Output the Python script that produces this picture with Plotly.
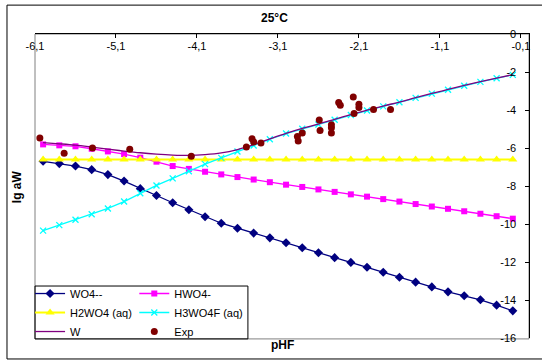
import plotly.graph_objects as go

# pHF grid of the speciation calculation
phf = [-6.0, -5.8, -5.6, -5.4, -5.2, -5.0, -4.8, -4.6, -4.4, -4.2,
       -4.0, -3.8, -3.6, -3.4, -3.2, -3.0, -2.8, -2.6, -2.4, -2.2,
       -2.0, -1.8, -1.6, -1.4, -1.2, -1.0, -0.8, -0.6, -0.4, -0.2]

# lg a of each tungsten species
wo4 = [-6.70, -6.82, -6.95, -7.14, -7.40, -7.74, -8.14, -8.50, -8.88, -9.25,
       -9.62, -9.96, -10.22, -10.48, -10.73, -10.99, -11.25, -11.51, -11.77, -12.02,
       -12.28, -12.54, -12.80, -13.06, -13.31, -13.57, -13.78, -13.99, -14.27, -14.57]
hwo4 = [-5.81, -5.86, -5.91, -6.04, -6.18, -6.32, -6.51, -6.72, -6.95, -7.10,
        -7.25, -7.39, -7.53, -7.66, -7.80, -7.93, -8.05, -8.18, -8.31, -8.44,
        -8.56, -8.69, -8.82, -8.95, -9.08, -9.20, -9.33, -9.46, -9.59, -9.72]
h2wo4 = [-6.60, -6.60, -6.60, -6.60, -6.60, -6.60, -6.60, -6.60, -6.60, -6.60,
         -6.60, -6.60, -6.60, -6.60, -6.60, -6.60, -6.60, -6.60, -6.60, -6.60,
         -6.60, -6.60, -6.60, -6.60, -6.60, -6.60, -6.60, -6.60, -6.60, -6.60]
h3wo4f = [-10.35, -10.06, -9.78, -9.49, -9.18, -8.82, -8.38, -7.97, -7.60, -7.22,
          -6.85, -6.52, -6.18, -5.87, -5.54, -5.24, -4.99, -4.76, -4.51, -4.26,
          -4.03, -3.81, -3.59, -3.36, -3.14, -2.93, -2.72, -2.52, -2.33, -2.15]
w_total = [-5.72, -5.78, -5.85, -5.95, -6.06, -6.16, -6.25, -6.32, -6.37, -6.39,
           -6.35, -6.26, -6.08, -5.82, -5.52, -5.23, -4.97, -4.74, -4.49, -4.24,
           -4.01, -3.79, -3.58, -3.35, -3.13, -2.92, -2.71, -2.51, -2.32, -2.14]

# experimental solubility points
exp_phf = [-6.04, -5.74, -5.39, -4.93, -4.17, -3.49, -3.42, -3.40, -3.31, -2.86,
           -2.85, -2.80, -2.59, -2.58, -2.44, -2.44, -2.44, -2.35, -2.33, -2.17,
           -2.10, -2.10, -2.16, -1.92, -1.71]
exp_lg = [-5.47, -6.28, -6.00, -6.07, -6.43, -5.95, -5.51, -5.68, -5.74, -5.39,
          -5.63, -5.21, -4.52, -5.08, -4.77, -4.93, -5.21, -3.61, -3.75, -3.31,
          -3.70, -3.87, -4.19, -3.98, -3.98]

x_ticks = [-6.1, -5.1, -4.1, -3.1, -2.1, -1.1, -0.1]
x_ticktext = ["-6,1", "-5,1", "-4,1", "-3,1", "-2,1", "-1,1", "-0,1"]
y_ticks = [0, -2, -4, -6, -8, -10, -12, -14, -16]
y_ticktext = ["0", "-2", "-4", "-6", "-8", "-10", "-12", "-14", "-16"]

FONT = "Liberation Sans, Arial, sans-serif"

fig = go.Figure()

fig.add_trace(go.Scatter(x=phf, y=wo4, name="WO4--", mode="lines+markers",
                         line=dict(color="#000080", width=1.3),
                         marker=dict(symbol="diamond", size=7, color="#000080"),
                         legend="legend"))
fig.add_trace(go.Scatter(x=phf, y=hwo4, name="HWO4-", mode="lines+markers",
                         line=dict(color="#FF00FF", width=1.3),
                         marker=dict(symbol="square", size=6, color="#FF00FF"),
                         legend="legend2"))
fig.add_trace(go.Scatter(x=phf, y=h2wo4, name="H2WO4 (aq)", mode="lines+markers",
                         line=dict(color="#FFFF00", width=2),
                         marker=dict(symbol="triangle-up", size=8, color="#FFFF00"),
                         legend="legend"))
fig.add_trace(go.Scatter(x=phf, y=h3wo4f, name="H3WO4F (aq)", mode="lines+markers",
                         line=dict(color="#00FFFF", width=1.3),
                         marker=dict(symbol="x-thin", size=6, color="#00FFFF",
                                     line=dict(color="#00FFFF", width=1.3)),
                         legend="legend2"))
fig.add_trace(go.Scatter(x=phf, y=w_total, name="W", mode="lines",
                         line=dict(color="#800080", width=1.3, shape="spline"),
                         legend="legend"))
fig.add_trace(go.Scatter(x=exp_phf, y=exp_lg, name="Exp", mode="markers",
                         marker=dict(symbol="circle", size=7, color="#800000"),
                         legend="legend2"))

legend_common = dict(
    orientation="v", xanchor="left", yanchor="top", bgcolor="rgba(0,0,0,0)",
    borderwidth=0, font=dict(family=FONT, size=11, color="black"),
    itemwidth=30, tracegroupgap=0,
)

fig.update_layout(
    width=542, height=361,
    margin=dict(l=35, r=13, t=34, b=23, autoexpand=False),
    paper_bgcolor="white", plot_bgcolor="white",
    font=dict(family=FONT, size=11, color="black"),
    legend=dict(x=-0.010, y=0.194, **legend_common),
    legend2=dict(x=0.201, y=0.194, **legend_common),
    xaxis=dict(range=[-6.1, 0], side="top", tickvals=x_ticks, ticktext=x_ticktext,
               ticks="inside", ticklen=4, tickcolor="black",
               ticklabelposition="inside", ticklabeloverflow="allow",
               ticklabelstandoff=4,
               showline=True, linecolor="black", linewidth=1,
               showgrid=False, zeroline=False,
               tickfont=dict(family=FONT, size=11, color="black")),
    yaxis=dict(range=[-16, 0], side="right", tickvals=y_ticks, ticktext=y_ticktext,
               ticks="inside", ticklen=4, tickcolor="black",
               ticklabelposition="inside", ticklabeloverflow="allow",
               ticklabelstandoff=8,
               showline=True, linecolor="black", linewidth=1,
               showgrid=False, zeroline=False,
               tickfont=dict(family=FONT, size=11, color="black")),
    showlegend=True,
)

# outer chart frame: left, top and bottom edges, running to the page edge
frame_x0, frame_x1 = -0.0567, 1.0263
frame_y0, frame_y1 = -0.069, 1.095
for x0, y0, x1, y1 in [(frame_x0, frame_y0, frame_x0, frame_y1),
                       (frame_x0, frame_y1, frame_x1, frame_y1),
                       (frame_x0, frame_y0, frame_x1, frame_y0)]:
    fig.add_shape(type="line", xref="paper", yref="paper",
                  x0=x0, y0=y0, x1=x1, y1=y1,
                  line=dict(color="black", width=1), layer="below")

# grey plot-area box and the legend box
fig.add_shape(type="rect", xref="paper", yref="paper",
              x0=0, x1=1, y0=-0.003, y1=1,
              line=dict(color="#808080", width=1), layer="below")
fig.add_shape(type="rect", xref="paper", yref="paper",
              x0=0, x1=0.431, y0=-0.003, y1=0.171,
              line=dict(color="black", width=1), fillcolor="rgba(0,0,0,0)",
              layer="above")

fig.add_annotation(text="<b>25°C</b>", xref="paper", yref="paper",
                   x=0.484, y=1.053, xanchor="center", yanchor="middle",
                   showarrow=False,
                   font=dict(family=FONT, size=12, color="black"))
fig.add_annotation(text="<b>pHF</b>", xref="paper", yref="paper",
                   x=0.50, y=-0.023, xanchor="center", yanchor="middle",
                   showarrow=False,
                   font=dict(family=FONT, size=12, color="black"))
fig.add_annotation(text="<b>lg aW</b>", xref="paper", yref="paper",
                   x=-0.036, y=0.497, xanchor="center", yanchor="middle",
                   showarrow=False, textangle=-90,
                   font=dict(family=FONT, size=12, color="black"))

fig.write_html("out.html")
